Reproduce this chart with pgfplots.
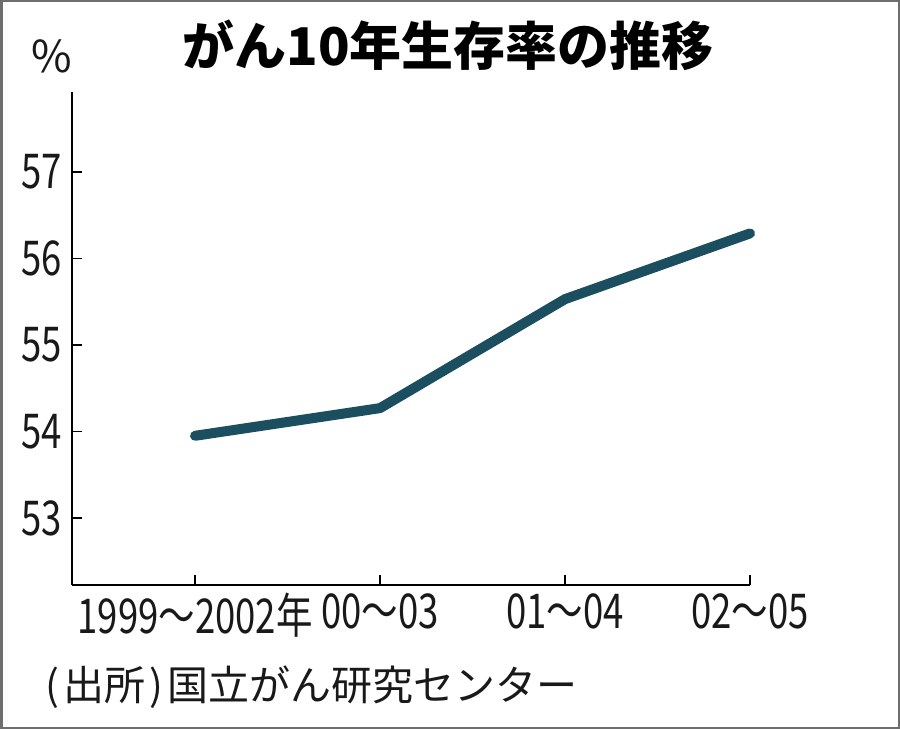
\documentclass[border=0pt]{standalone}
\usepackage{fontspec}
\usepackage{pgfplots}
\pgfplotsset{compat=1.18}
\setmainfont{Noto Sans CJK JP}
\newfontfamily\cjkcond[FakeStretch=0.76]{Noto Sans CJK JP}
\definecolor{linecol}{RGB}{27,78,94}
\definecolor{framecol}{RGB}{110,110,110}
\begin{document}
\begin{tikzpicture}[x=1pt,y=1pt]
\useasboundingbox (0,0) rectangle (900,729);
\draw[color=framecol, line width=2.5pt] (1.25,1.25) rectangle (898.75,727.75);
\node[font=\bfseries\fontsize{52}{60}\selectfont, text=black] at (448,684) {がん10年生存率の推移};
\node[font=\fontsize{44}{50}\selectfont, text=black!90] at (52,673) {\%};
\node[font=\fontsize{41}{48}\selectfont, text=black!90, anchor=west, inner sep=0pt] at (45,42) {(\hspace{4pt}出所\hspace{4pt})\hspace{5pt}国立がん研究センター};
\begin{axis}[
  at={(72pt,144pt)}, anchor=south west,
  width=678pt, height=493pt, scale only axis,
  xmin=-0.665, xmax=3, ymin=52.225, ymax=57.925,
  axis x line=bottom, axis y line=left,
  axis line style={-, line width=2pt, black},
  xtick={0,1,2,3},
  xticklabels={1999～2002年,00～03,01～04,02～05},
  ytick={53,54,55,56,57},
  tick align=inside, major tick length=10pt,
  tick style={line width=1.5pt, black},
  x tick label style={font=\cjkcond\fontsize{48}{48}\selectfont, inner sep=0pt, yshift=-8pt, text=black!90},
  y tick label style={font=\cjkcond\fontsize{48}{48}\selectfont, inner sep=0pt, xshift=-10pt, text=black!90},
  /pgf/number format/assume math mode=true,
  clip=false,
]
\addplot[color=linecol, line width=10pt, line cap=round, line join=round] coordinates {
  (0,53.95) (1,54.27) (2,55.53) (3,56.29)
};
\end{axis}
\end{tikzpicture}
\end{document}
